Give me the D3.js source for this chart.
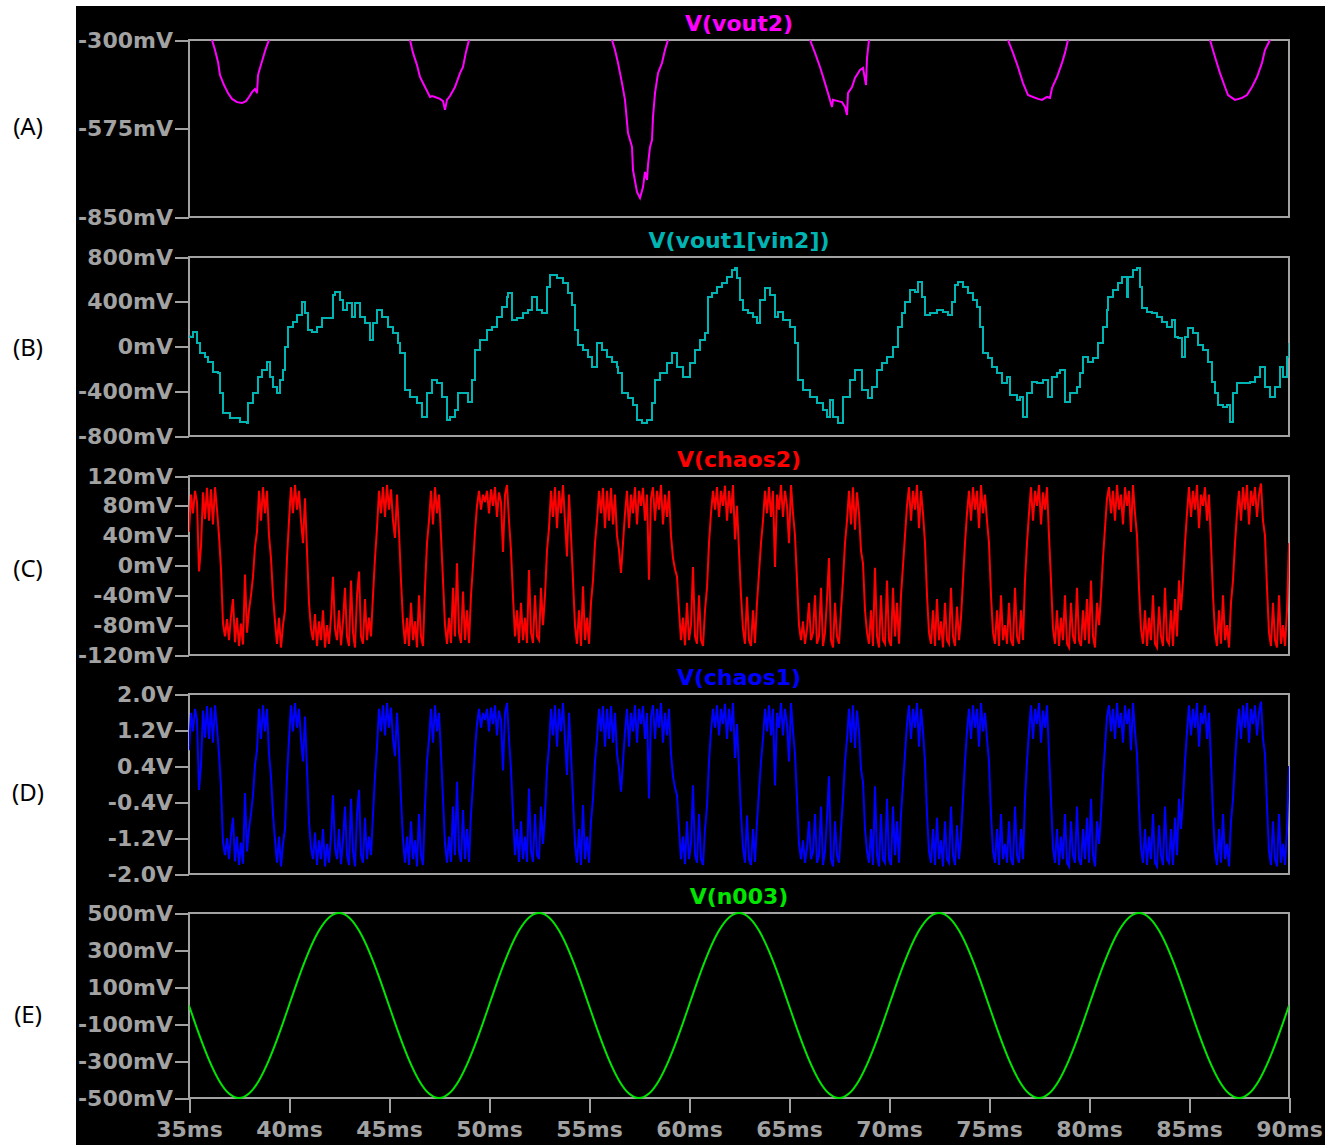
<!DOCTYPE html>
<html>
<head>
<meta charset="utf-8">
<script src="https://cdn.jsdelivr.net/npm/d3@7"></script>
<style>
  body { margin: 0; background: #fff; }
  svg { display: block; }
</style>
</head>
<body>
<div id="chart"></div>
<script>
// ---- data ----
const timeTicks = [35, 40, 45, 50, 55, 60, 65, 70, 75, 80, 85, 90];
const timeTickLabels = ["35ms", "40ms", "45ms", "50ms", "55ms", "60ms", "65ms", "70ms", "75ms", "80ms", "85ms", "90ms"];

const vout2Ticks = [-300, -575, -850];
const vout2TickLabels = ["-300mV", "-575mV", "-850mV"];
const vout1Ticks = [800, 400, 0, -400, -800];
const vout1TickLabels = ["800mV", "400mV", "0mV", "-400mV", "-800mV"];
const chaos2Ticks = [120, 80, 40, 0, -40, -80, -120];
const chaos2TickLabels = ["120mV", "80mV", "40mV", "0mV", "-40mV", "-80mV", "-120mV"];
const chaos1Ticks = [2.0, 1.2, 0.4, -0.4, -1.2, -2.0];
const chaos1TickLabels = ["2.0V", "1.2V", "0.4V", "-0.4V", "-1.2V", "-2.0V"];
const n003Ticks = [500, 300, 100, -100, -300, -500];
const n003TickLabels = ["500mV", "300mV", "100mV", "-100mV", "-300mV", "-500mV"];

// V(vout2): [ms, mV]; null = trace above the visible range
const vout2 = [
  [36.15,-300],[36.3,-331],[36.45,-368],[36.55,-409],[36.75,-440],[36.95,-465],[37.15,-483],[37.4,-493],[37.65,-496],[37.85,-490],
  [38.0,-477],[38.15,-462],[38.3,-452],[38.4,-465],[38.45,-409],[38.55,-387],[38.7,-356],[38.85,-325],[39.0,-300],
  [42.5,null],
  [46.05,-300],[46.2,-340],[46.4,-378],[46.55,-415],[46.8,-446],[47.05,-477],[47.15,-474],[47.3,-477],[47.55,-483],[47.7,-490],
  [47.8,-517],[47.9,-486],[48.05,-474],[48.3,-446],[48.55,-403],[48.7,-384],[48.85,-337],[49.0,-300],
  [52.5,null],
  [56.15,-300],[56.3,-331],[56.45,-371],[56.65,-434],[56.8,-486],[56.95,-589],[57.15,-632],[57.2,-704],[57.4,-772],[57.55,-791],
  [57.7,-757],[57.8,-710],[57.9,-735],[57.95,-688],[58.05,-632],[58.15,-611],[58.2,-539],[58.3,-465],[58.45,-403],[58.65,-371],
  [58.8,-331],[58.95,-300],
  [62.5,null],
  [66.05,-300],[66.3,-340],[66.55,-384],[66.8,-434],[67.05,-486],[67.15,-508],[67.2,-486],[67.45,-490],[67.65,-493],[67.8,-508],
  [67.9,-533],[67.95,-465],[68.15,-446],[68.3,-418],[68.55,-393],[68.7,-387],[68.85,-440],[68.9,-356],[69.0,-300],
  [72.5,null],
  [75.95,-300],[76.2,-340],[76.45,-384],[76.7,-434],[76.95,-471],[77.2,-477],[77.45,-483],[77.65,-486],[77.9,-477],[78.05,-480],
  [78.15,-449],[78.4,-415],[78.65,-371],[78.8,-340],[78.95,-300],
  [82.5,null],
  [86.05,-300],[86.3,-353],[86.55,-403],[86.8,-446],[86.95,-471],[87.3,-486],[87.65,-480],[87.9,-471],[88.15,-446],[88.4,-415],
  [88.65,-371],[88.8,-331],[89.05,-300]
];

// V(vout1[vin2]): [ms, mV]
const vout1 = [
  [35.0,90],[35.05,85],[35.2,130],[35.4,31],[35.55,-58],[35.8,-94],[35.95,-139],[36.2,-228],[36.45,-237],[36.55,-416],
  [36.7,-594],[37.05,-639],[37.55,-675],[37.9,-684],[37.95,-505],[38.2,-416],[38.45,-273],[38.65,-210],[38.9,-139],[39.05,-273],
  [39.2,-362],[39.4,-416],[39.55,-300],[39.7,-210],[39.8,-4],[39.95,174],[40.2,219],[40.4,282],[40.65,398],[40.8,300],
  [40.95,147],[41.15,130],[41.4,174],[41.65,255],[41.95,255],[42.2,460],[42.3,487],[42.55,416],[42.7,326],[42.9,389],
  [43.15,264],[43.3,389],[43.55,264],[43.8,210],[44.05,58],[44.2,210],[44.4,326],[44.65,264],[44.95,174],[45.2,121],
  [45.45,31],[45.55,-58],[45.8,-389],[46.05,-451],[46.4,-505],[46.65,-630],[46.9,-416],[47.15,-300],[47.4,-326],[47.65,-451],
  [47.9,-657],[48.05,-630],[48.3,-568],[48.45,-416],[48.8,-416],[48.95,-496],[49.15,-300],[49.3,-31],[49.55,58],[49.9,147],
  [50.15,174],[50.4,264],[50.65,353],[50.9,443],[50.95,478],[51.15,237],[51.4,255],[51.7,300],[51.95,326],[52.15,443],
  [52.4,326],[52.65,300],[52.9,532],[53.05,639],[53.4,612],[53.7,568],[53.95,478],[54.15,371],[54.3,147],[54.45,13],
  [54.7,-31],[54.95,-94],[55.15,-183],[55.4,31],[55.65,-31],[55.9,-94],[56.15,-139],[56.4,-183],[56.45,-237],[56.65,-416],
  [56.95,-460],[57.2,-523],[57.4,-657],[57.65,-684],[57.9,-657],[58.15,-505],[58.3,-300],[58.55,-237],[58.9,-148],[59.15,-58],
  [59.4,-183],[59.7,-273],[60.05,-148],[60.3,-31],[60.55,58],[60.8,121],[60.95,443],[61.15,478],[61.4,532],[61.65,568],
  [61.9,621],[62.15,684],[62.3,702],[62.4,612],[62.55,416],[62.7,326],[62.95,300],[63.2,264],[63.4,210],[63.55,416],
  [63.8,523],[64.05,460],[64.3,264],[64.45,308],[64.7,237],[65.05,174],[65.3,31],[65.45,-300],[65.7,-389],[66.05,-451],
  [66.4,-505],[66.7,-568],[66.9,-630],[67.05,-478],[67.2,-630],[67.45,-684],[67.7,-451],[68.05,-300],[68.3,-210],[68.65,-389],
  [68.95,-460],[69.15,-362],[69.4,-210],[69.65,-148],[69.9,-94],[70.2,-4],[70.45,174],[70.65,300],[70.8,398],[71.05,505],
  [71.3,487],[71.45,577],[71.65,443],[71.8,282],[72.05,300],[72.4,326],[72.7,308],[72.95,282],[73.15,398],[73.3,550],
  [73.45,577],[73.7,532],[73.95,478],[74.2,416],[74.4,353],[74.55,174],[74.7,-58],[74.95,-103],[75.15,-183],[75.4,-237],
  [75.65,-326],[75.9,-273],[76.05,-434],[76.4,-478],[76.55,-451],[76.7,-630],[76.9,-416],[77.15,-317],[77.4,-326],[77.7,-300],
  [77.95,-451],[78.15,-273],[78.4,-237],[78.55,-210],[78.8,-496],[79.05,-416],[79.4,-362],[79.55,-237],[79.7,-94],[79.95,-139],
  [80.2,-103],[80.45,31],[80.7,174],[80.9,326],[80.95,443],[81.2,505],[81.45,568],[81.65,621],[81.9,443],[81.95,621],
  [82.2,684],[82.4,702],[82.55,532],[82.65,344],[82.9,308],[83.15,300],[83.4,264],[83.65,219],[83.9,174],[84.15,237],
  [84.3,85],[84.45,76],[84.65,-94],[84.8,85],[84.95,165],[85.2,121],[85.45,13],[85.7,-31],[85.95,-139],[86.15,-317],
  [86.3,-416],[86.45,-523],[86.7,-541],[86.9,-523],[87.05,-675],[87.2,-416],[87.4,-326],[87.7,-326],[88.05,-317],[88.3,-273],
  [88.55,-183],[88.8,-362],[89.05,-451],[89.3,-362],[89.55,-183],[89.7,-273],[89.9,-94],[90.0,31]
];

// V(chaos2) in mV and V(chaos1) in V, one reading every 0.1 ms from 35 ms
const chaosStart = 35;
const chaosStep = 0.1;
const chaos2 = [
  45,95,70,100,85,-8,25,98,62,104,
  60,102,55,105,75,40,-5,-78,-95,-72,
  -100,-68,-45,-103,-70,-108,-78,-106,-12,-90,
  -60,-40,-15,25,45,100,60,105,70,100,
  40,10,-40,-75,-105,-70,-110,-80,-60,10,
  60,105,70,108,75,100,60,30,90,20,
  -50,-85,-100,-65,-108,-75,-100,-60,-110,-80,
  -105,-70,-15,-85,-100,-60,-107,-75,-30,-95,
  -108,-20,-90,-110,-40,-8,-95,-105,-45,-100,
  -70,-95,-40,10,50,100,70,105,65,108,
  75,102,60,37,95,45,-20,-75,-105,-70,
  -108,-50,-100,-75,-110,-40,-95,-108,-30,30,
  60,100,55,105,70,95,40,-20,-80,-105,
  -70,-104,-30,-95,3,-90,-104,-35,-100,-60,
  -104,-40,0,45,80,100,75,95,85,100,
  70,102,80,105,65,98,85,18,95,108,
  60,20,-42,-95,-60,-104,-50,-100,-70,-104,
  -6,-90,-104,-40,-95,-100,-30,-80,-40,20,
  50,100,65,105,50,100,70,108,60,12,
  95,40,-20,-80,-105,-60,-108,-28,-100,-70,
  -105,-50,-20,30,60,100,70,104,50,100,
  60,104,55,95,40,21,-10,30,70,100,
  50,95,70,105,55,100,80,104,60,95,
  -19,90,105,60,100,75,108,55,95,65,
  100,40,10,-5,-15,-60,-100,-70,-107,-50,
  -100,-80,-2,-95,-105,-40,-100,-108,-60,-30,
  30,70,100,75,105,65,100,80,107,60,
  100,70,108,35,80,20,-40,-85,-105,-42,
  -100,-108,-60,-104,-50,-10,30,60,100,70,
  105,65,100,-2,95,75,108,65,100,80,
  30,108,70,40,-20,-80,-100,-75,-105,-85,
  -50,-100,-90,-40,-105,-95,-30,-108,-90,-45,
  10,-100,-110,-50,-95,-105,-60,-20,30,60,
  100,55,105,48,98,70,20,3,-60,-90,
  -105,-60,-108,-3,-95,-110,-40,-100,-105,-20,
  -100,-108,-30,-95,-50,-105,-40,0,40,80,
  105,60,100,75,108,50,100,70,30,-40,
  -90,-105,-60,-108,-45,-100,-75,-110,-50,-100,
  -105,-30,-95,-108,-55,-100,-70,-20,30,70,
  100,60,105,75,100,50,108,70,95,60,
  30,-40,-90,-105,-60,-108,-40,-100,-80,-105,
  -50,-100,-108,-30,-95,-105,-60,-100,-20,30,
  70,105,60,100,80,108,55,98,75,105,
  40,-20,-85,-105,-60,-108,-70,-100,-40,-105,
  -110,-50,-95,-105,-30,-100,-108,-60,-100,-45,
  -105,-20,-95,-110,-50,-80,-40,10,50,90,
  105,70,100,60,108,75,95,55,105,80,
  100,45,108,70,40,-30,-85,-105,-60,-108,
  -70,-100,-40,-105,-110,-55,-95,-108,-30,-100,
  -105,-60,-108,-45,-95,-20,-60,-20,30,70,
  105,65,100,75,108,50,95,80,105,60,
  95,30,-40,-90,-108,-60,-105,-40,-100,-80,
  -110,-50,-20,30,70,100,60,105,75,108,
  55,100,80,105,65,95,110,60,40,-30,
  -90,-108,-50,-100,-110,-40,-105,-80,-108,-60,30
];
const chaos1 = [
  0.75,1.58,1.17,1.67,1.42,-0.13,0.42,1.63,1.03,1.73,
  1.0,1.7,0.92,1.75,1.25,0.67,-0.08,-1.3,-1.58,-1.2,
  -1.67,-1.13,-0.75,-1.72,-1.17,-1.8,-1.3,-1.77,-0.2,-1.5,
  -1.0,-0.67,-0.25,0.42,0.75,1.67,1.0,1.75,1.17,1.67,
  0.67,0.17,-0.67,-1.25,-1.75,-1.17,-1.83,-1.33,-1.0,0.17,
  1.0,1.75,1.17,1.8,1.25,1.67,1.0,0.5,1.5,0.33,
  -0.83,-1.42,-1.67,-1.08,-1.8,-1.25,-1.67,-1.0,-1.83,-1.33,
  -1.75,-1.17,-0.25,-1.42,-1.67,-1.0,-1.78,-1.25,-0.5,-1.58,
  -1.8,-0.33,-1.5,-1.83,-0.67,-0.13,-1.58,-1.75,-0.75,-1.67,
  -1.17,-1.58,-0.67,0.17,0.83,1.67,1.17,1.75,1.08,1.8,
  1.25,1.7,1.0,0.62,1.58,0.75,-0.33,-1.25,-1.75,-1.17,
  -1.8,-0.83,-1.67,-1.25,-1.83,-0.67,-1.58,-1.8,-0.5,0.5,
  1.0,1.67,0.92,1.75,1.17,1.58,0.67,-0.33,-1.33,-1.75,
  -1.17,-1.73,-0.5,-1.58,0.05,-1.5,-1.73,-0.58,-1.67,-1.0,
  -1.73,-0.67,0,0.75,1.33,1.67,1.25,1.58,1.42,1.67,
  1.17,1.7,1.33,1.75,1.08,1.63,1.42,0.3,1.58,1.8,
  1.0,0.33,-0.7,-1.58,-1.0,-1.73,-0.83,-1.67,-1.17,-1.73,
  -0.1,-1.5,-1.73,-0.67,-1.58,-1.67,-0.5,-1.33,-0.67,0.33,
  0.83,1.67,1.08,1.75,0.83,1.67,1.17,1.8,1.0,0.2,
  1.58,0.67,-0.33,-1.33,-1.75,-1.0,-1.8,-0.47,-1.67,-1.17,
  -1.75,-0.83,-0.33,0.5,1.0,1.67,1.17,1.73,0.83,1.67,
  1.0,1.73,0.92,1.58,0.67,0.35,-0.17,0.5,1.17,1.67,
  0.83,1.58,1.17,1.75,0.92,1.67,1.33,1.73,1.0,1.58,
  -0.32,1.5,1.75,1.0,1.67,1.25,1.8,0.92,1.58,1.08,
  1.67,0.67,0.17,-0.08,-0.25,-1.0,-1.67,-1.17,-1.78,-0.83,
  -1.67,-1.33,-0.03,-1.58,-1.75,-0.67,-1.67,-1.8,-1.0,-0.5,
  0.5,1.17,1.67,1.25,1.75,1.08,1.67,1.33,1.78,1.0,
  1.67,1.17,1.8,0.58,1.33,0.33,-0.67,-1.42,-1.75,-0.7,
  -1.67,-1.8,-1.0,-1.73,-0.83,-0.17,0.5,1.0,1.67,1.17,
  1.75,1.08,1.67,-0.03,1.58,1.25,1.8,1.08,1.67,1.33,
  0.5,1.8,1.17,0.67,-0.33,-1.33,-1.67,-1.25,-1.75,-1.42,
  -0.83,-1.67,-1.5,-0.67,-1.75,-1.58,-0.5,-1.8,-1.5,-0.75,
  0.17,-1.67,-1.83,-0.83,-1.58,-1.75,-1.0,-0.33,0.5,1.0,
  1.67,0.92,1.75,0.8,1.63,1.17,0.33,0.05,-1.0,-1.5,
  -1.75,-1.0,-1.8,-0.05,-1.58,-1.83,-0.67,-1.67,-1.75,-0.33,
  -1.67,-1.8,-0.5,-1.58,-0.83,-1.75,-0.67,0,0.67,1.33,
  1.75,1.0,1.67,1.25,1.8,0.83,1.67,1.17,0.5,-0.67,
  -1.5,-1.75,-1.0,-1.8,-0.75,-1.67,-1.25,-1.83,-0.83,-1.67,
  -1.75,-0.5,-1.58,-1.8,-0.92,-1.67,-1.17,-0.33,0.5,1.17,
  1.67,1.0,1.75,1.25,1.67,0.83,1.8,1.17,1.58,1.0,
  0.5,-0.67,-1.5,-1.75,-1.0,-1.8,-0.67,-1.67,-1.33,-1.75,
  -0.83,-1.67,-1.8,-0.5,-1.58,-1.75,-1.0,-1.67,-0.33,0.5,
  1.17,1.75,1.0,1.67,1.33,1.8,0.92,1.63,1.25,1.75,
  0.67,-0.33,-1.42,-1.75,-1.0,-1.8,-1.17,-1.67,-0.67,-1.75,
  -1.83,-0.83,-1.58,-1.75,-0.5,-1.67,-1.8,-1.0,-1.67,-0.75,
  -1.75,-0.33,-1.58,-1.83,-0.83,-1.33,-0.67,0.17,0.83,1.5,
  1.75,1.17,1.67,1.0,1.8,1.25,1.58,0.92,1.75,1.33,
  1.67,0.75,1.8,1.17,0.67,-0.5,-1.42,-1.75,-1.0,-1.8,
  -1.17,-1.67,-0.67,-1.75,-1.83,-0.92,-1.58,-1.8,-0.5,-1.67,
  -1.75,-1.0,-1.8,-0.75,-1.58,-0.33,-1.0,-0.33,0.5,1.17,
  1.75,1.08,1.67,1.25,1.8,0.83,1.58,1.33,1.75,1.0,
  1.58,0.5,-0.67,-1.5,-1.8,-1.0,-1.75,-0.67,-1.67,-1.33,
  -1.83,-0.83,-0.33,0.5,1.17,1.67,1.0,1.75,1.25,1.8,
  0.92,1.67,1.33,1.75,1.08,1.58,1.83,1.0,0.67,-0.5,
  -1.5,-1.8,-0.83,-1.67,-1.83,-0.67,-1.75,-1.33,-1.8,-1.0,0.4
];

// V(n003) in mV, one reading every 0.5 ms from 35 ms
const n003Start = 35;
const n003Step = 0.5;
const n003 = [
  0,-155,-294,-405,-476,-500,-476,-405,-294,-155,0,155,294,405,476,500,476,405,294,155,
  0,-155,-294,-405,-476,-500,-476,-405,-294,-155,0,155,294,405,476,500,476,405,294,155,
  0,-155,-294,-405,-476,-500,-476,-405,-294,-155,0,155,294,405,476,500,476,405,294,155,
  0,-155,-294,-405,-476,-500,-476,-405,-294,-155,0,155,294,405,476,500,476,405,294,155,
  0,-155,-294,-405,-476,-500,-476,-405,-294,-155,0,155,294,405,476,500,476,405,294,155,
  0,-155,-294,-405,-476,-500,-476,-405,-294,-155,0
];

// ---- layout ----
const W = 1332, H = 1145;
const plotLeft = 189, plotRight = 1289;
const panelTops = [40, 257, 476, 694, 913];
const panelBottoms = [217, 436, 655, 874, 1098];
const sideLabels = ["(A)", "(B)", "(C)", "(D)", "(E)"];
const sideLabelY = [127, 348, 569, 793, 1015];
const GRAY = "#a2a2a2";
const FONT = "DejaVu Sans";

const sampled = (vals, t0, dt) => vals.map((v, i) => ({ t: t0 + i * dt, v }));
const paired = arr => arr.map(d => ({ t: d[0], v: d[1] }));

const series = [
  { title: "V(vout2)", color: "#ff00ff", domain: [-850, -300], ticks: vout2Ticks, labels: vout2TickLabels,
    points: paired(vout2), curve: d3.curveLinear },
  { title: "V(vout1[vin2])", color: "#00b4b4", domain: [-800, 800], ticks: vout1Ticks, labels: vout1TickLabels,
    points: paired(vout1), curve: d3.curveStepAfter },
  { title: "V(chaos2)", color: "#ff0000", domain: [-120, 120], ticks: chaos2Ticks, labels: chaos2TickLabels,
    points: sampled(chaos2, chaosStart, chaosStep), curve: d3.curveLinear },
  { title: "V(chaos1)", color: "#0000ff", domain: [-2, 2], ticks: chaos1Ticks, labels: chaos1TickLabels,
    points: sampled(chaos1, chaosStart, chaosStep), curve: d3.curveLinear },
  { title: "V(n003)", color: "#00e600", domain: [-500, 500], ticks: n003Ticks, labels: n003TickLabels,
    points: sampled(n003, n003Start, n003Step), curve: d3.curveNatural },
];

const svg = d3.select("#chart").append("svg")
  .attr("width", W).attr("height", H);

// black scope background
svg.append("rect")
  .attr("x", 76).attr("y", 6)
  .attr("width", 1249).attr("height", H - 6)
  .attr("fill", "#000");

const x = d3.scaleLinear().domain([35, 90]).range([plotLeft, plotRight]);

series.forEach((s, i) => {
  const top = panelTops[i], bottom = panelBottoms[i];
  const y = d3.scaleLinear().domain(s.domain).range([bottom, top]);
  const g = svg.append("g");

  g.append("clipPath").attr("id", "clip" + i)
    .append("rect")
    .attr("x", plotLeft).attr("y", top - 1)
    .attr("width", plotRight - plotLeft).attr("height", bottom - top + 2);

  // frame
  g.append("rect")
    .attr("x", plotLeft).attr("y", top)
    .attr("width", plotRight - plotLeft).attr("height", bottom - top)
    .attr("fill", "none")
    .attr("stroke", GRAY)
    .attr("stroke-width", 2)
    .attr("shape-rendering", "crispEdges");

  // y axis
  const ay = g.append("g")
    .attr("transform", `translate(${plotLeft},0)`)
    .call(d3.axisLeft(y).tickValues(s.ticks).tickFormat((d, j) => s.labels[j]).tickSize(14).tickPadding(2));
  ay.select(".domain").remove();
  ay.attr("color", GRAY).attr("font-family", FONT).attr("font-size", 22).attr("font-weight", "bold");
  ay.selectAll(".tick line").attr("stroke-width", 2).attr("shape-rendering", "crispEdges");

  // trace
  const line = d3.line()
    .defined(d => d.v != null)
    .x(d => x(d.t))
    .y(d => y(d.v))
    .curve(s.curve);

  g.append("path")
    .datum(s.points)
    .attr("clip-path", `url(#clip${i})`)
    .attr("d", line)
    .attr("fill", "none")
    .attr("stroke", s.color)
    .attr("stroke-width", 2);

  // trace title
  g.append("text")
    .attr("x", (plotLeft + plotRight) / 2)
    .attr("y", top - 17)
    .attr("dy", "0.35em")
    .attr("text-anchor", "middle")
    .attr("font-family", FONT)
    .attr("font-size", 22)
    .attr("font-weight", "bold")
    .attr("fill", s.color)
    .text(s.title);

  // panel letter on the white margin
  svg.append("text")
    .attr("x", 28)
    .attr("y", sideLabelY[i])
    .attr("dy", "0.35em")
    .attr("text-anchor", "middle")
    .attr("font-family", "Noto Sans")
    .attr("font-size", 24)
    .attr("fill", "#000")
    .text(sideLabels[i]);

  // time axis on the bottom panel only
  if (i === series.length - 1) {
    const ax = g.append("g")
      .attr("transform", `translate(0,${bottom})`)
      .call(d3.axisBottom(x).tickValues(timeTicks).tickFormat((d, j) => timeTickLabels[j]).tickSize(15).tickPadding(8));
    ax.select(".domain").remove();
    ax.attr("color", GRAY).attr("font-family", FONT).attr("font-size", 22).attr("font-weight", "bold");
    ax.selectAll(".tick line").attr("stroke-width", 2).attr("shape-rendering", "crispEdges");
  }
});
</script>
</body>
</html>
